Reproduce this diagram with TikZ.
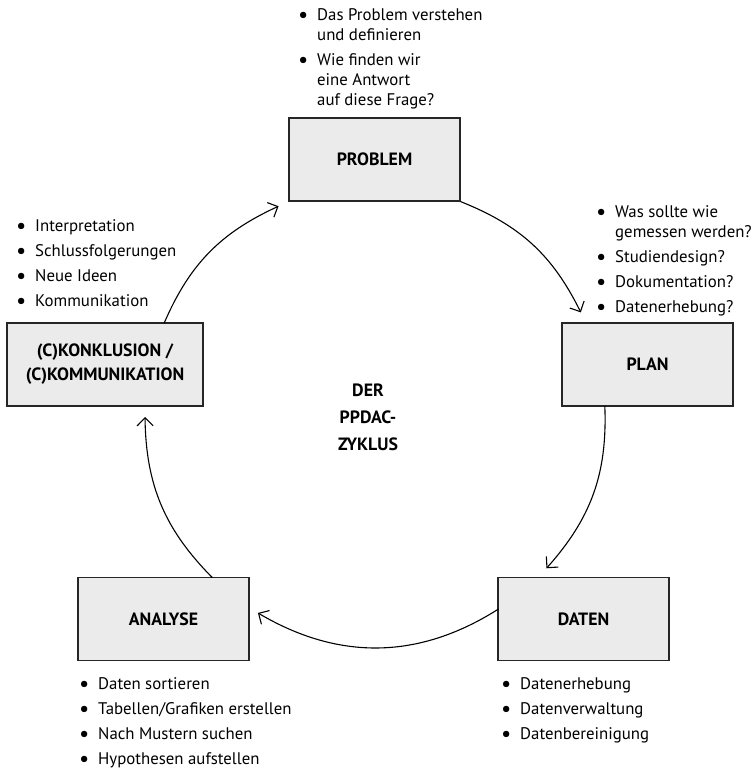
\documentclass[tikz,border=0pt]{standalone}
\usepackage{fontspec}
\setmainfont{PT Sans}
\usetikzlibrary{arrows.meta,calc}

\newcommand{\pkt}{\makebox[19bp][l]{\raisebox{-1.5bp}{\scalebox{1.35}{\textbullet}}}}
\newcommand{\punkte}[1]{\begin{tabular}[t]{@{}l@{}l@{}}#1\end{tabular}}

\begin{document}
\begin{tikzpicture}[x=1bp, y=1bp,
  kasten/.style={draw=black!85, line width=1.3bp, fill=black!8,
    minimum width=171bp, minimum height=83bp, align=center,
    font=\fontsize{17.8bp}{24bp}\selectfont\bfseries},
  liste/.style={anchor=base west, inner sep=0pt,
    font=\fontsize{16.8bp}{20bp}\selectfont},
  pfeil/.style={line width=1.1bp, -{Straight Barb[length=8bp,width=16bp]}}]
\useasboundingbox (0,0) rectangle (755,775);

% Phasen
\node[kasten] (problem) at (374.5,615.5) {PROBLEM};
\node[kasten] (plan) at (647.5,410.5) {PLAN};
\node[kasten] (daten) at (583.5,156) {DATEN};
\node[kasten] (analyse) at (163.5,156) {ANALYSE};
\node[kasten, minimum width=196bp] (konklusion) at (105,410.5)
  {(C)KONKLUSION /\\(C)KOMMUNIKATION};

\node[font=\fontsize{17.8bp}{27bp}\selectfont\bfseries, align=center]
  (zyklus) at (368,358) {DER\\PPDAC-\\ZYKLUS};

% Stichpunkte
\node[liste] (problemtext) at (298,754) {\punkte{
  \pkt & Das Problem verstehen\\
       & und definieren\\[5bp]
  \pkt & Wie finden wir\\
       & eine Antwort\\
       & auf diese Frage?}};
\node[liste] (plantext) at (596,557) {\punkte{
  \pkt & Was sollte wie\\
       & gemessen werden?\\[5bp]
  \pkt & Studiendesign?\\[5bp]
  \pkt & Dokumentation?\\[5bp]
  \pkt & Datenerhebung?}};
\node[liste] (datentext) at (501,85) {\punkte{
  \pkt & Datenerhebung\\[5bp]
  \pkt & Datenverwaltung\\[5bp]
  \pkt & Datenbereinigung}};
\node[liste] (analysetext) at (79,85) {\punkte{
  \pkt & Daten sortieren\\[5bp]
  \pkt & Tabellen/Grafiken erstellen\\[5bp]
  \pkt & Nach Mustern suchen\\[5bp]
  \pkt & Hypothesen aufstellen}};
\node[liste] (konklusiontext) at (16,543) {\punkte{
  \pkt & Interpretation\\[5bp]
  \pkt & Schlussfolgerungen\\[5bp]
  \pkt & Neue Ideen\\[5bp]
  \pkt & Kommunikation}};

% Kreis
\coordinate (mitte) at (375,360);
\foreach \name/\winkel in {a1e/26.5, a2s/2.3, a2e/-41.8, a3s/-57.5,
    a3e/-120.6, a4s/-135, a4e/180.5, a5s/156.5, a5e/114.8}
  \coordinate (\name) at ($(mitte)+(\winkel:230)$);

\draw[pfeil] (problem.south east) to[bend left=21] (a1e);
\draw[pfeil] (a2s) to[bend left=22] (a2e);
\draw[pfeil] (a3s) to[bend left=31.5] (a3e);
\draw[pfeil] (a4s) to[bend left=22] (a4e);
\draw[pfeil] (a5s) to[bend left=21] (a5e);
\end{tikzpicture}
\end{document}
